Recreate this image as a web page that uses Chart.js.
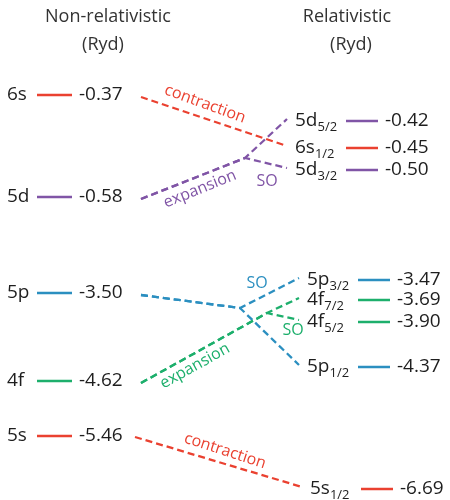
<!DOCTYPE html>
<html lang="en">
<head>
<meta charset="UTF-8">
<title>Energy levels</title>
<script src="https://cdn.jsdelivr.net/npm/chart.js"></script>
<style>
    body { margin: 0; background: #fff; }
    #wrap { width: 450px; height: 500px; }
</style>
</head>
<body>
<div id="wrap"><canvas id="chart"></canvas></div>
<script>
    // non-relativistic levels (Ryd)
    var nrOrbitals = ['6s', '5d', '5p', '4f', '5s']
    var nrEnergies = [-0.37, -0.58, -3.50, -4.62, -5.46]

    // relativistic levels (Ryd)
    var relOrbitals = ['5d', '6s', '5d', '5p', '4f', '4f', '5p', '5s']
    var relJ = ['5/2', '1/2', '3/2', '3/2', '7/2', '5/2', '1/2', '1/2']
    var relEnergies = [-0.42, -0.45, -0.50, -3.47, -3.69, -3.90, -4.37, -6.69]
    var relParent = [1, 0, 1, 2, 3, 3, 2, 4]

    // connector annotations
    var notes = ['contraction', 'expansion', 'SO', 'SO', 'SO', 'expansion', 'contraction']
    var noteShell = ['s', 'd', 'd', 'p', 'f', 'f', 's']

    var colors = { s: '#ea4130', d: '#8055a6', p: '#2b8fc0', f: '#1daf6c' }

    // diagram layout (not to scale, in canvas units)
    var nrRow = [95, 197, 293, 381, 436]
    var relRow = [121, 148, 170, 280, 300, 322, 367, 489]
    var relX = [295, 295, 295, 307, 307, 307, 307, 310]
    var splitAt = { 1: [245, 158], 2: [240, 308], 3: [267, 313] }
    var notePos = [[205, 104, 20], [200, 189, -22], [267, 181, 0], [257, 283, 0],
        [293, 330, 0], [195, 366, -29], [225, 451, 18]]

    function shell(o) { return o.charAt(o.length - 1) }

    var datasets = []
    nrOrbitals.forEach(function (o, i) {
        datasets.push({
            data: [{ x: 37, y: nrRow[i] }, { x: 72, y: nrRow[i] }],
            borderColor: colors[shell(o)], borderWidth: 2.5
        })
    })
    relOrbitals.forEach(function (o, i) {
        var x0 = relX[i] + 51
        datasets.push({
            data: [{ x: x0, y: relRow[i] }, { x: x0 + 32, y: relRow[i] }],
            borderColor: colors[shell(o)], borderWidth: 2.5
        })
    })
    // dashed connectors
    relOrbitals.forEach(function (o, i) {
        var p = relParent[i]
        var start = { x: 141, y: nrRow[p] + 2 }
        if (p == 4) start = { x: 135, y: nrRow[p] + 1 }
        var end = { x: relX[i] - 8, y: relRow[i] - 2 }
        var pts = splitAt[p] ? [start, { x: splitAt[p][0], y: splitAt[p][1] }, end] : [start, end]
        datasets.push({
            data: pts, borderColor: colors[shell(o)], borderWidth: 2.3, borderDash: [7, 4]
        })
    })

    function txt(ctx, s, x, y, font, color, align) {
        ctx.font = font
        ctx.fillStyle = color
        ctx.textAlign = align || 'left'
        ctx.textBaseline = 'middle'
        ctx.fillText(s, x, y)
    }

    var labels = {
        id: 'labels',
        afterDatasetsDraw: function (chart) {
            var ctx = chart.ctx, xs = chart.scales.x, ys = chart.scales.y
            var big = '19px "Open Sans"', small = '13px "Open Sans"', ink = '#1e1e1e'
            var head = '18px "Open Sans"', grey = '#333'
            ctx.save()
            txt(ctx, 'Non-relativistic', xs.getPixelForValue(108), ys.getPixelForValue(17), head, grey, 'center')
            txt(ctx, '(Ryd)', xs.getPixelForValue(103), ys.getPixelForValue(45), head, grey, 'center')
            txt(ctx, 'Relativistic', xs.getPixelForValue(347), ys.getPixelForValue(17), head, grey, 'center')
            txt(ctx, '(Ryd)', xs.getPixelForValue(351), ys.getPixelForValue(45), head, grey, 'center')

            nrOrbitals.forEach(function (o, i) {
                var y = ys.getPixelForValue(nrRow[i])
                txt(ctx, o, xs.getPixelForValue(7), y, big, ink)
                txt(ctx, nrEnergies[i].toFixed(2), xs.getPixelForValue(79), y, big, ink)
            })
            relOrbitals.forEach(function (o, i) {
                var y = ys.getPixelForValue(relRow[i])
                var x = xs.getPixelForValue(relX[i])
                txt(ctx, o, x, y, big, ink)
                ctx.font = big
                var w = ctx.measureText(o).width
                txt(ctx, relJ[i], x + w, y + 6, small, ink)
                txt(ctx, relEnergies[i].toFixed(2), xs.getPixelForValue(relX[i] + 90), y, big, ink)
            })
            notes.forEach(function (n, i) {
                var p = notePos[i]
                ctx.save()
                ctx.translate(xs.getPixelForValue(p[0]), ys.getPixelForValue(p[1]))
                ctx.rotate(p[2] * Math.PI / 180)
                txt(ctx, n, 0, 0, '16px "Open Sans"', colors[noteShell[i]], 'center')
                ctx.restore()
            })
            ctx.restore()
        }
    }

    var canvas = document.getElementById('chart')
    var diagram = new Chart(canvas, {
        type: 'scatter',
        data: { datasets: datasets },
        options: {
            responsive: true,
            maintainAspectRatio: false,
            animation: false,
            layout: { padding: 0 },
            showLine: true,
            elements: { point: { radius: 0, hoverRadius: 0 }, line: { tension: 0 } },
            plugins: { legend: { display: false }, tooltip: { enabled: false } },
            scales: {
                x: { type: 'linear', min: 0, max: 450, display: false },
                y: { type: 'linear', min: 0, max: 500, reverse: true, display: false }
            }
        },
        plugins: [labels]
    })
</script>
</body>
</html>
